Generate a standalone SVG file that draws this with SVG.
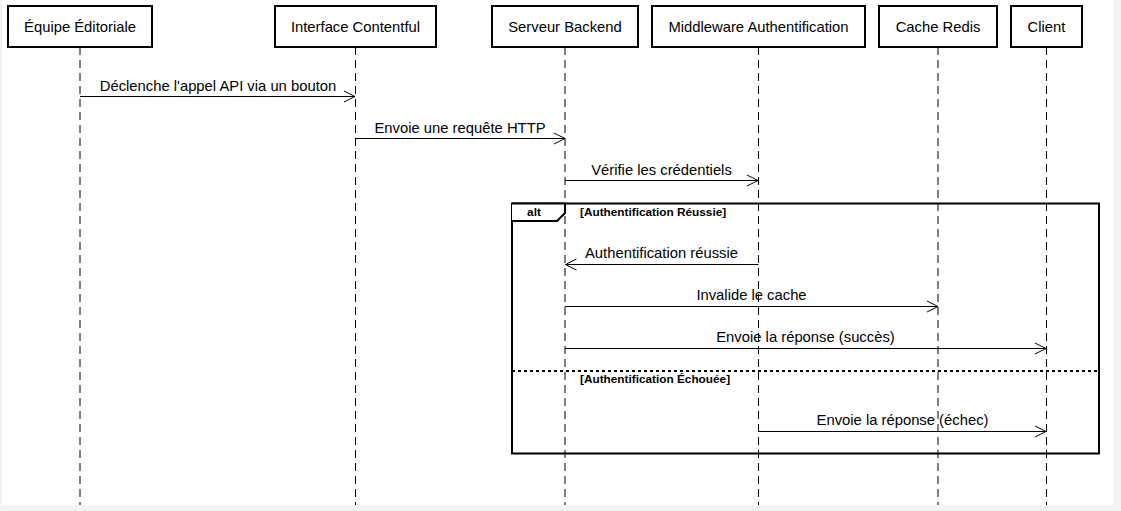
<svg xmlns="http://www.w3.org/2000/svg" width="1121" height="511" viewBox="0 0 1121 511">
<style>
.bg{fill:#f3f3f3}
.page{fill:#ffffff}
.actor rect{fill:#ffffff;stroke:#000;stroke-width:2}
.actor text,.msg text{font-family:"Liberation Sans",Arial,sans-serif;font-size:14.8px;fill:#000;text-anchor:middle}
.life{stroke:#000;stroke-width:1;stroke-dasharray:8,5}
.msg line{stroke:#000;stroke-width:1}
.frame{fill:none;stroke:#000;stroke-width:2}
.cond{font-family:"Liberation Sans",Arial,sans-serif;font-size:11.8px;font-weight:bold;fill:#000}
</style>
<defs>
<marker id="arr" markerWidth="14" markerHeight="14" refX="12" refY="7" orient="auto" markerUnits="userSpaceOnUse">
<path d="M1,1.5 L12,7 L1,12.5" fill="none" stroke="#000" stroke-width="1"/>
</marker>
</defs>
<rect class="bg" x="0" y="0" width="1121" height="511"/>
<rect class="page" x="2" y="0" width="1111" height="505"/>
<g id="lifelines">
<line class="life" x1="80" y1="47" x2="80" y2="505"/>
<line class="life" x1="355.5" y1="47" x2="355.5" y2="505"/>
<line class="life" x1="565" y1="47" x2="565" y2="505"/>
<line class="life" x1="758.5" y1="47" x2="758.5" y2="505"/>
<line class="life" x1="938" y1="47" x2="938" y2="505"/>
<line class="life" x1="1046.5" y1="47" x2="1046.5" y2="505"/>
</g>
<g id="node-equipe" class="actor"><rect x="8" y="6" width="144" height="41"/><text x="80" y="32">Équipe Éditoriale</text></g>
<g id="node-interface" class="actor"><rect x="275" y="6" width="161" height="41"/><text x="355.5" y="32">Interface Contentful</text></g>
<g id="node-serveur" class="actor"><rect x="492" y="6" width="146" height="41"/><text x="565" y="32">Serveur Backend</text></g>
<g id="node-middleware" class="actor"><rect x="652" y="6" width="213" height="41"/><text x="758.5" y="32">Middleware Authentification</text></g>
<g id="node-cache" class="actor"><rect x="879" y="6" width="118" height="41"/><text x="938" y="32">Cache Redis</text></g>
<g id="node-client" class="actor"><rect x="1011" y="6" width="71" height="41"/><text x="1046.5" y="32">Client</text></g>
<g id="alt-frame">
<rect class="frame" x="512" y="203.5" width="587" height="250"/>
<path d="M512,203.5 L565,203.5 L565,213 L557,221 L512,221" fill="#fff" stroke="#000" stroke-width="2"/>
<text class="cond" x="534" y="216" style="text-anchor:middle">alt</text>
<text class="cond" x="580" y="216">[Authentification Réussie]</text>
<line x1="512" y1="371" x2="1099" y2="371" stroke="#000" stroke-width="2" stroke-dasharray="3,3"/>
<text class="cond" x="580" y="383">[Authentification Échouée]</text>
</g>
<g id="connectors" class="msg">
<line x1="80" y1="96.5" x2="355" y2="96.5" marker-end="url(#arr)"/>
<text x="218" y="91">Déclenche l'appel API via un bouton</text>
<line x1="355.5" y1="138.5" x2="565" y2="138.5" marker-end="url(#arr)"/>
<text x="460" y="133">Envoie une requête HTTP</text>
<line x1="565" y1="180.5" x2="758" y2="180.5" marker-end="url(#arr)"/>
<text x="661.5" y="175">Vérifie les crédentiels</text>
<line x1="758.5" y1="264.5" x2="565.5" y2="264.5" marker-end="url(#arr)"/>
<text x="661.5" y="258">Authentification réussie</text>
<line x1="565" y1="306.5" x2="938" y2="306.5" marker-end="url(#arr)"/>
<text x="751.5" y="300">Invalide le cache</text>
<line x1="565" y1="348.5" x2="1046" y2="348.5" marker-end="url(#arr)"/>
<text x="805.5" y="342">Envoie la réponse (succès)</text>
<line x1="758.5" y1="431.5" x2="1046" y2="431.5" marker-end="url(#arr)"/>
<text x="902.5" y="425">Envoie la réponse (échec)</text>
</g>
</svg>
